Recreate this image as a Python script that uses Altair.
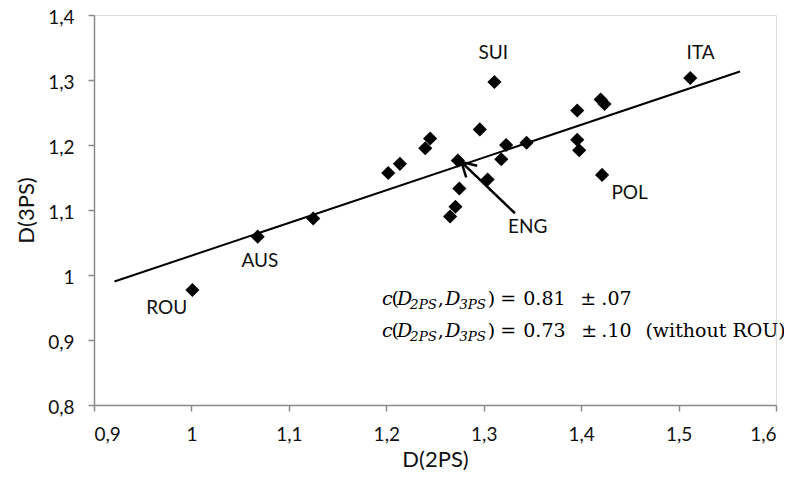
import altair as alt
import pandas as pd

# ---- data ----
d2ps = [1.001, 1.068, 1.125, 1.202, 1.214, 1.240, 1.245, 1.296, 1.311, 1.512,
        1.2735, 1.275, 1.271, 1.2655, 1.304, 1.318, 1.323, 1.344, 1.396, 1.396,
        1.398, 1.420, 1.424, 1.4215]
d3ps = [0.977, 1.059, 1.087, 1.157, 1.171, 1.195, 1.210, 1.224, 1.297, 1.303,
        1.176, 1.133, 1.105, 1.090, 1.147, 1.178, 1.200, 1.2035, 1.253, 1.208,
        1.192, 1.270, 1.263, 1.154]

fit_x = [0.921, 1.563]
fit_y = [0.990, 1.313]

label_text = ["SUI", "ITA", "POL", "ENG", "AUS", "ROU"]
label_x = [1.3098, 1.5226, 1.4497, 1.3452, 1.0703, 0.9747]
label_y = [1.3415, 1.3415, 1.1262, 1.0738, 1.0215, 0.9492]

# arrow (ENG): shaft and two arms of the open head
arrow_x = [1.332, 1.2772, 1.2772]
arrow_y = [1.095, 1.1738, 1.1738]
arrow_x2 = [1.2772, 1.282, 1.2933]
arrow_y2 = [1.1738, 1.1503, 1.168]

x_ticks = [0.9, 1.0, 1.1, 1.2, 1.3, 1.4, 1.5, 1.6]
y_ticks = [0.8, 0.9, 1.0, 1.1, 1.2, 1.3, 1.4]

# ---- formula annotation (pieces placed in pixel offsets) ----
PX_X0, PX_PER_X = 94.3, 973.0
PX_Y0, PX_PER_Y = 405.0, 650.0


def px2x(px):
    return 0.9 + (px - PX_X0) / PX_PER_X


def px2y(py):
    return 0.8 + (PX_Y0 - py) / PX_PER_Y


line_base = [305, 336.5]
common = [("c", 382, "it"), ("(", 391.5, "up"), ("D", 397, "it"), ("2PS", 410, "sub"),
          (",", 437.5, "up"), ("D", 445, "it"), ("3PS", 459, "sub"), (")", 487.5, "up"),
          ("=", 500, "up")]
tails = [
    [("0.81", 523, "up"), ("±", 580, "up"), (".07", 601, "up")],
    [("0.73", 523, "up"), ("±", 581, "up"), (".10", 601, "up"), ("(without ROU)", 645, "up")],
]
rows = []
for i, base in enumerate(line_base):
    for t, px, kind in common + tails[i]:
        py = base + (4 if kind == "sub" else 0)
        rows.append({"t": t, "x": px2x(px), "y": px2y(py), "kind": kind})
formula = pd.DataFrame(rows)

pts = pd.DataFrame({"x": d2ps, "y": d3ps})
fit = pd.DataFrame({"x": fit_x, "y": fit_y})
labels = pd.DataFrame({"t": label_text, "x": label_x, "y": label_y})
arrows = pd.DataFrame({"x": arrow_x, "y": arrow_y, "x2": arrow_x2, "y2": arrow_y2})

LABEL_FONT = "Lato"
axis_common = dict(grid=False, domainColor="#8a8a8a", domainWidth=1.5,
                   tickColor="#8a8a8a", tickWidth=1.5, tickSize=6,
                   labelFont=LABEL_FONT, labelFontSize=19, labelColor="#111111",
                   titleFont=LABEL_FONT, titleFontSize=22, titleFontWeight="normal",
                   titleColor="#111111",
                   labelExpr="replace(format(datum.value, '.2~f'), '.', ',')")

xs = alt.Scale(domain=[0.9, 1.6], nice=False, zero=False)
ys = alt.Scale(domain=[0.8, 1.4], nice=False, zero=False)

base_pts = alt.Chart(pts).mark_point(shape="diamond", filled=True, color="black",
                                     size=200, opacity=1).encode(
    x=alt.X("x:Q", scale=xs, title="D(2PS)",
            axis=alt.Axis(values=x_ticks, labelPadding=14, titlePadding=5, **axis_common)),
    y=alt.Y("y:Q", scale=ys, title="D(3PS)",
            axis=alt.Axis(values=y_ticks, labelPadding=14, titlePadding=9, labelOffset=2,
                          **axis_common)),
)

line = alt.Chart(fit).mark_line(color="black", strokeWidth=2).encode(
    x=alt.X("x:Q", scale=xs), y=alt.Y("y:Q", scale=ys))

arrow = alt.Chart(arrows).mark_rule(color="black", strokeWidth=2.5).encode(
    x=alt.X("x:Q", scale=xs), y=alt.Y("y:Q", scale=ys), x2="x2:Q", y2="y2:Q")

lbl = alt.Chart(labels).mark_text(font=LABEL_FONT, fontSize=19, color="#111111",
                                  align="center", baseline="middle").encode(
    x=alt.X("x:Q", scale=xs), y=alt.Y("y:Q", scale=ys), text="t:N")

f_up = alt.Chart(formula).transform_filter("datum.kind == 'up'").mark_text(
    font="DejaVu Serif", fontSize=19, color="black", align="left", baseline="alphabetic").encode(
    x=alt.X("x:Q", scale=xs), y=alt.Y("y:Q", scale=ys), text="t:N")
f_it = alt.Chart(formula).transform_filter("datum.kind == 'it'").mark_text(
    font="DejaVu Serif", fontSize=19, fontStyle="italic", color="black", align="left",
    baseline="alphabetic").encode(
    x=alt.X("x:Q", scale=xs), y=alt.Y("y:Q", scale=ys), text="t:N")
f_sub = alt.Chart(formula).transform_filter("datum.kind == 'sub'").mark_text(
    font="DejaVu Serif", fontSize=13.5, fontStyle="italic", color="black", align="left",
    baseline="alphabetic").encode(
    x=alt.X("x:Q", scale=xs), y=alt.Y("y:Q", scale=ys), text="t:N")

chart = alt.layer(line, base_pts, arrow, lbl, f_up, f_it, f_sub).properties(
    width=682, height=390,
    padding={"left": 86, "top": 7, "right": 8, "bottom": 65},
    autosize=alt.AutoSizeParams(type="none"),
).configure_view(stroke=None).configure(background="white")

chart.save("out.html", embed_options={"renderer": "svg", "actions": False})
